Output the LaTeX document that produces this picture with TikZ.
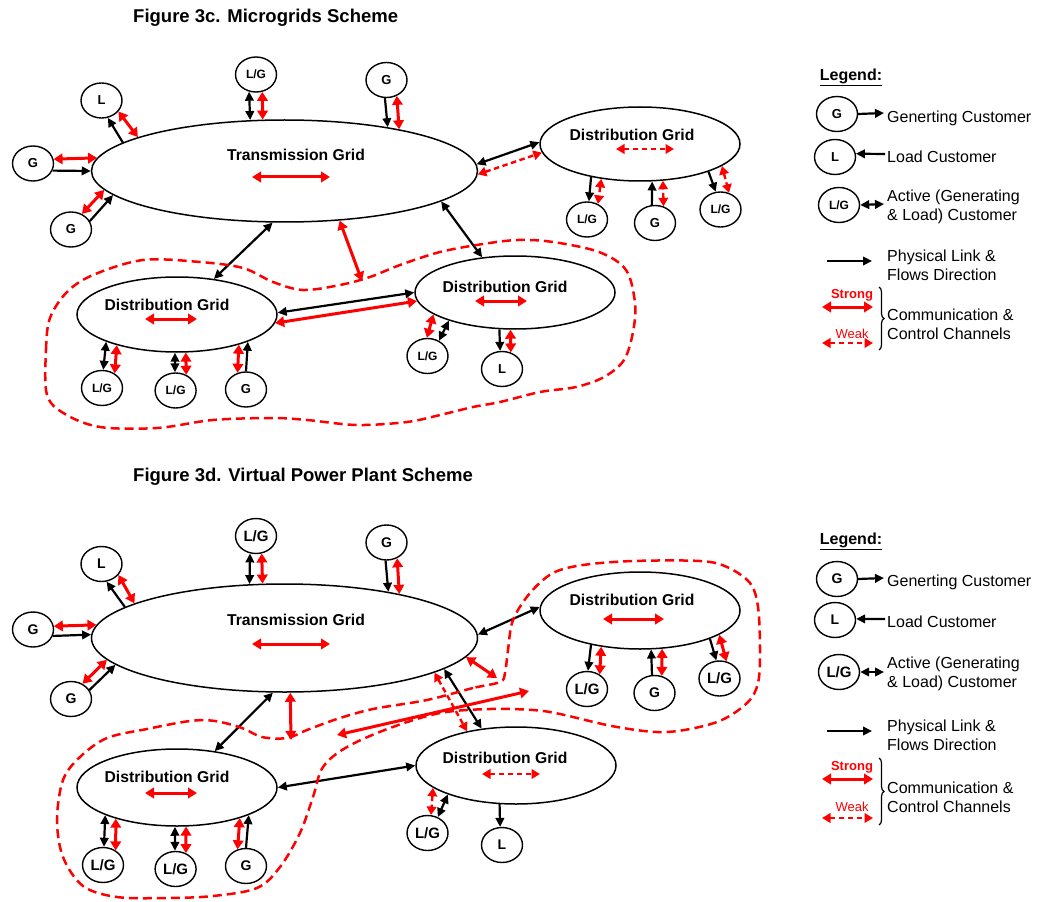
\documentclass[tikz,border=0pt]{standalone}
\usepackage{fontspec}
\setmainfont{Liberation Sans}
\usetikzlibrary{arrows.meta,shapes.geometric,decorations.pathreplacing}

\begin{document}
\begin{tikzpicture}[x=1pt,y=-1pt,
  gridnode/.style={draw, ellipse, line width=1.5pt, inner sep=0pt},
  gridlabel/.style={font=\bfseries\fontsize{15.7}{16}\selectfont, inner sep=0pt},
  custnode/.style={draw, ellipse, line width=1.4pt, minimum width=41pt, minimum height=35pt,
                   inner sep=0pt, font=\bfseries\fontsize{13}{13}\selectfont},
  custsmall/.style={custnode, font=\bfseries\fontsize{12}{12}\selectfont},
  custbig/.style={custnode, font=\bfseries\fontsize{14}{14}\selectfont},
  custlg/.style={custnode, font=\bfseries\fontsize{15}{15}\selectfont},
  physarr/.style={line width=2.2pt, -{Triangle[length=9pt,width=8.5pt]}},
  physdbl/.style={line width=2.2pt, {Triangle[length=9pt,width=8.5pt]}-{Triangle[length=9pt,width=8.5pt]}},
  strongarr/.style={red, line width=3pt, {Triangle[length=9pt,width=10.5pt]}-{Triangle[length=9pt,width=10.5pt]}},
  weakarr/.style={red, line width=2.4pt, dash pattern=on 5.5pt off 3.5pt,
                  {Triangle[length=8.5pt,width=9.5pt]}-{Triangle[length=8.5pt,width=9.5pt]}},
  mgloop/.style={red, line width=2.5pt, dash pattern=on 9pt off 5pt},
  titletext/.style={font=\bfseries\fontsize{18.5}{19}\selectfont, anchor=west, inner sep=0pt},
  legtext/.style={font=\fontsize{16}{19}\selectfont, anchor=west, align=left, inner sep=0pt},
  leghead/.style={font=\bfseries\fontsize{16}{16}\selectfont, inner sep=0pt},
]
\useasboundingbox (0,0) rectangle (1040,901);

%% ================= Figure 3c: microgrids =================
\node[titletext] (title3c) at (133,18) {Figure 3c. Microgrids Scheme};

% grids
\node[gridnode, minimum width=386pt, minimum height=102pt] (tgA) at (284.5,171) {};
\node[gridlabel] (tgAt) at (296,155) {Transmission Grid};
\node[gridnode, minimum width=200pt, minimum height=74pt] (dgA1) at (640,144) {};
\node[gridlabel] (dgA1t) at (632,135) {Distribution Grid};
\node[gridnode, minimum width=200pt, minimum height=75pt] (dgA2) at (177,314.5) {};
\node[gridlabel] (dgA2t) at (167,305) {Distribution Grid};
\node[gridnode, minimum width=200pt, minimum height=73pt] (dgA3) at (515,292.5) {};
\node[gridlabel] (dgA3t) at (505,287) {Distribution Grid};

% customers
\node[custnode]  (cA1)  at (101.5,100.5) {L};
\node[custnode]  (cA2)  at (33,163.5)    {G};
\node[custnode]  (cA3)  at (71,229.5)    {G};
\node[custsmall] (cA4)  at (256,74.5)    {L/G};
\node[custnode]  (cA5)  at (386.5,80)    {G};
\node[custsmall] (cA6)  at (587,219.5)   {L/G};
\node[custnode]  (cA7)  at (655,223)     {G};
\node[custsmall] (cA8)  at (720.5,209.5) {L/G};
\node[custsmall] (cA9)  at (102,388)     {L/G};
\node[custsmall] (cA10) at (175.6,390.5) {L/G};
\node[custnode]  (cA11) at (246,389.5)   {G};
\node[custsmall] (cA12) at (427.5,356)   {L/G};
\node[custnode]  (cA13) at (502,369)     {L};

% internal channels
\coordinate (tgAa) at (252,177); \coordinate (tgAb) at (330,177);
\draw[strongarr] (tgAa) -- (tgAb);
\coordinate (dgA1a) at (616,149); \coordinate (dgA1b) at (674,149);
\draw[weakarr] (dgA1a) -- (dgA1b);
\coordinate (dgA2a) at (145,319); \coordinate (dgA2b) at (197,319);
\draw[strongarr] (dgA2a) -- (dgA2b);
\coordinate (dgA3a) at (475,301); \coordinate (dgA3b) at (527,301);
\draw[strongarr] (dgA3a) -- (dgA3b);

% transmission grid customers
\draw[physarr]   (tgA.170.2) -- (cA1.-70);
\draw[strongarr] (tgA.167.6) -- (cA1.-33);
\draw[strongarr] (cA2.12) -- (tgA.176.6);
\draw[physarr]   (cA2.-20) -- (tgA.180);
\draw[strongarr] (cA3.55) -- (tgA.186.9);
\draw[physarr]   (cA3.24) -- (tgA.188.5);
\draw[physdbl]   (cA4.-112) -- (tgA.124.6);
\draw[strongarr] (cA4.-70) -- (tgA.113.8);
\draw[physarr]   (cA5.-95) -- (tgA.23.2);
\draw[strongarr] (cA5.-57) -- (tgA.20.2);

% grid to grid
\draw[physdbl]   (tgA.2.1) -- (dgA1.179.4);
\draw[weakarr]   (tgA.-1.8) -- (dgA1.185.9);
\draw[physdbl]   (tgA.257.3) -- (dgA2.44.2);
\coordinate (mgTip) at (362,281);
\draw[strongarr] (tgA.-42.5) -- (mgTip);
\draw[physdbl]   (tgA.-11.3) -- (dgA3.133.7);
\draw[physdbl]   (dgA2.1.1) -- (dgA3.180);
\draw[strongarr] (dgA2.-5.9) -- (dgA3.185.6);

% right distribution grid customers
\draw[physarr] (dgA1.214.8) -- (cA6.84);
\draw[weakarr] (dgA1.222.9) -- (cA6.55);
\draw[physarr] (cA7.100) -- (dgA1.288.1);
\draw[weakarr] (cA7.63) -- (dgA1.302.6);
\draw[physarr] (dgA1.-22.3) -- (cA8.105);
\draw[weakarr] (dgA1.-15) -- (cA8.63);

% microgrid customers
\draw[physdbl]   (dgA2.201.7) -- (cA9.86);
\draw[strongarr] (dgA2.207.5) -- (cA9.49);
\draw[physdbl]   (dgA2.267) -- (cA10.92);
\draw[strongarr] (dgA2.283.4) -- (cA10.56);
\draw[strongarr] (dgA2.-26.3) -- (cA11.117);
\draw[physarr]   (cA11.90) -- (dgA2.-21.7);
\draw[strongarr] (dgA3.195) -- (cA12.92);
\draw[physdbl]   (dgA3.203.4) -- (cA12.53);
\draw[physarr]   (dgA3.247.4) -- (cA13.96);
\draw[strongarr] (dgA3.263.7) -- (cA13.62);

% microgrid boundary
\draw[mgloop] plot[smooth cycle, tension=0.55] coordinates {
  (47,395) (46,350) (50,318) (67,292) (93,275) (143,260) (200,262) (243,268)
  (273,282) (303,290) (340,285) (370,277) (400,265) (440,252) (483,244)
  (518,240) (553,242) (599,252) (626,270) (635,303) (633,332) (624,360)
  (604,377) (576,387) (540,392) (500,402) (473,407) (440,415) (407,422)
  (357,425) (307,420) (273,418) (213,420) (157,428) (100,427) (65,414)};

% legend
\node[leghead] (legA) at (851,77) {\underline{Legend:}};
\node[custnode] (lgAG) at (837,114) {G};
\coordinate (lgAGe) at (884,113);
\draw[physarr] (lgAG.east) -- (lgAGe);
\node[legtext] (lgAGt) at (887,118) {Generting Customer};
\node[custnode] (lgAL) at (835,157) {L};
\coordinate (lgALe) at (885,154);
\draw[physarr] (lgALe) -- (lgAL.9);
\node[legtext] (lgALt) at (887,157) {Load Customer};
\node[custsmall] (lgALG) at (839,205) {L/G};
\coordinate (lgALGe) at (884,204);
\draw[physdbl] (lgALG.east) -- (lgALGe);
\node[legtext] (lgALGt) at (887,206.5) {Active (Generating\\\& Load) Customer};
\coordinate (lgAPa) at (827,261); \coordinate (lgAPb) at (872,261);
\draw[physarr] (lgAPa) -- (lgAPb);
\node[legtext] (lgAPt) at (887,265) {Physical Link \&\\Flows Direction};
\node[red, font=\bfseries\fontsize{13}{13}\selectfont, inner sep=0pt] (lgAS) at (852,295) {Strong};
\coordinate (lgASa) at (822,307); \coordinate (lgASb) at (873,307);
\draw[strongarr] (lgASa) -- (lgASb);
\node[red, font=\fontsize{13}{13}\selectfont, inner sep=0pt] (lgAW) at (852,334) {Weak};
\coordinate (lgAWa) at (822,343); \coordinate (lgAWb) at (873,343);
\draw[weakarr] (lgAWa) -- (lgAWb);
\coordinate (lgABa) at (879,287); \coordinate (lgABb) at (879,350);
\draw[line width=1.2pt, decorate, decoration={brace, amplitude=5pt}] (lgABa) -- (lgABb);
\node[legtext] (lgACt) at (887,324) {Communication \&\\Control Channels};

%% ================= Figure 3d: virtual power plant =================
\node[titletext] (title3d) at (133,477) {Figure 3d. Virtual Power Plant Scheme};

% grids
\node[gridnode, minimum width=386pt, minimum height=108pt] (tgB) at (284.5,638) {};
\node[gridlabel] (tgBt) at (296,620) {Transmission Grid};
\node[gridnode, minimum width=200pt, minimum height=77pt] (dgB1) at (640,610.5) {};
\node[gridlabel] (dgB1t) at (632,600) {Distribution Grid};
\node[gridnode, minimum width=200pt, minimum height=77pt] (dgB2) at (177,787.5) {};
\node[gridlabel] (dgB2t) at (167,777) {Distribution Grid};
\node[gridnode, minimum width=200pt, minimum height=77pt] (dgB3) at (516,765.5) {};
\node[gridlabel] (dgB3t) at (505,758) {Distribution Grid};

% customers
\node[custbig] (cB1)  at (101.5,564)   {L};
\node[custbig] (cB2)  at (33,629.5)    {G};
\node[custbig] (cB3)  at (71,699)      {G};
\node[custlg]  (cB4)  at (256,536)     {L/G};
\node[custbig] (cB5)  at (386.5,542.5) {G};
\node[custlg]  (cB6)  at (587,689)     {L/G};
\node[custbig] (cB7)  at (654.5,693)   {G};
\node[custlg]  (cB8)  at (719.5,678.5) {L/G};
\node[custlg]  (cB9)  at (103,865)     {L/G};
\node[custlg]  (cB10) at (175.6,869)   {L/G};
\node[custbig] (cB11) at (246,866)     {G};
\node[custlg]  (cB12) at (427.5,833)   {L/G};
\node[custbig] (cB13) at (502,845)     {L};

% internal channels
\coordinate (tgBa) at (252,644); \coordinate (tgBb) at (330,644);
\draw[strongarr] (tgBa) -- (tgBb);
\coordinate (dgB1a) at (603,619); \coordinate (dgB1b) at (664,619);
\draw[strongarr] (dgB1a) -- (dgB1b);
\coordinate (dgB2a) at (145,793); \coordinate (dgB2b) at (197,793);
\draw[strongarr] (dgB2a) -- (dgB2b);
\coordinate (dgB3a) at (482,774); \coordinate (dgB3b) at (540,774);
\draw[weakarr] (dgB3a) -- (dgB3b);

% transmission grid customers
\draw[physarr]   (tgB.169.5) -- (cB1.-74.6);
\draw[strongarr] (tgB.167.5) -- (cB1.-33.7);
\draw[strongarr] (cB2.9) -- (tgB.176.6);
\draw[physarr]   (cB2.-18) -- (tgB.179.7);
\draw[strongarr] (cB3.53) -- (tgB.187.5);
\draw[physarr]   (cB3.26.6) -- (tgB.189.2);
\draw[physdbl]   (cB4.-109.4) -- (tgB.123);
\draw[strongarr] (cB4.-72.5) -- (tgB.112.7);
\draw[physarr]   (cB5.-93) -- (tgB.24.6);
\draw[strongarr] (cB5.-56.7) -- (tgB.21.3);

% grid to grid
\draw[physdbl]   (tgB.1.5) -- (dgB1.178.6);
\coordinate (vppA) at (497,678);
\draw[strongarr] (tgB.-6) -- (vppA);
\draw[physdbl]   (tgB.-11.6) -- (dgB3.133.6);
\draw[weakarr]   (tgB.-13.1) -- (dgB3.145.9);
\coordinate (vppB) at (337,735); \coordinate (vppC) at (529,691);
\draw[strongarr] (vppB) -- (vppC);
\draw[physdbl]   (tgB.258) -- (dgB2.44.9);
\coordinate (vppD) at (291,740);
\draw[strongarr] (tgB.276.9) -- (vppD);
\draw[physdbl]   (dgB2.0) -- (dgB3.180);

% right distribution grid customers
\draw[physarr]   (dgB1.215.5) -- (cB6.87);
\draw[strongarr] (dgB1.223.6) -- (cB6.49);
\draw[physarr]   (cB7.98) -- (dgB1.286.9);
\draw[strongarr] (cB7.67) -- (dgB1.300.1);
\draw[physarr]   (dgB1.-22.8) -- (cB8.100);
\draw[strongarr] (dgB1.-17) -- (cB8.68);

% lower-left distribution grid customers
\draw[physdbl]   (dgB2.201.7) -- (cB9.87);
\draw[strongarr] (dgB2.207.5) -- (cB9.49);
\draw[physdbl]   (dgB2.267) -- (cB10.92);
\draw[strongarr] (dgB2.283.4) -- (cB10.57);
\draw[strongarr] (dgB2.-26.3) -- (cB11.117);
\draw[physarr]   (cB11.90) -- (dgB2.-21.7);

% lower-right distribution grid customers
\draw[weakarr]   (dgB3.195.9) -- (cB12.79);
\draw[physdbl]   (dgB3.203.4) -- (cB12.57);
\draw[physarr]   (dgB3.247.2) -- (cB13.96);

% virtual power plant boundary
\draw[mgloop] plot[smooth cycle, tension=0.55] coordinates {
  (500,682) (473,688) (427,700) (373,709) (337,719) (307,730) (287,738)
  (262,737) (242,728) (215,721) (190,721) (147,729) (107,738) (80,757)
  (63,780) (57,820) (63,857) (83,886) (117,897) (167,898) (213,896)
  (257,888) (280,867) (300,833) (313,797) (323,767) (347,747) (390,728)
  (440,713) (490,709) (533,710) (560,714) (617,727) (667,732) (717,722)
  (747,703) (758,683) (760,650) (758,607) (750,583) (727,567) (700,561)
  (633,561) (583,565) (553,573) (530,593) (513,620) (508,650) (505,673)};

% legend
\node[leghead] (legB) at (851,541) {\underline{Legend:}};
\node[custbig] (lgBG) at (837,579) {G};
\coordinate (lgBGe) at (884,578);
\draw[physarr] (lgBG.east) -- (lgBGe);
\node[legtext] (lgBGt) at (887,582) {Generting Customer};
\node[custbig] (lgBL) at (835,620) {L};
\coordinate (lgBLe) at (885,619);
\draw[physarr] (lgBLe) -- (lgBL.3);
\node[legtext] (lgBLt) at (887,622) {Load Customer};
\node[custlg] (lgBLG) at (839,672) {L/G};
\coordinate (lgBLGe) at (884,672);
\draw[physdbl] (lgBLG.east) -- (lgBLGe);
\node[legtext] (lgBLGt) at (887,674) {Active (Generating\\\& Load) Customer};
\coordinate (lgBPa) at (827,731); \coordinate (lgBPb) at (872,731);
\draw[physarr] (lgBPa) -- (lgBPb);
\node[legtext] (lgBPt) at (887,735) {Physical Link \&\\Flows Direction};
\node[red, font=\bfseries\fontsize{13}{13}\selectfont, inner sep=0pt] (lgBS) at (852,767) {Strong};
\coordinate (lgBSa) at (822,779); \coordinate (lgBSb) at (873,779);
\draw[strongarr] (lgBSa) -- (lgBSb);
\node[red, font=\fontsize{13}{13}\selectfont, inner sep=0pt] (lgBW) at (852,807) {Weak};
\coordinate (lgBWa) at (822,818); \coordinate (lgBWb) at (873,818);
\draw[weakarr] (lgBWa) -- (lgBWb);
\coordinate (lgBBa) at (879,758); \coordinate (lgBBb) at (879,825);
\draw[line width=1.2pt, decorate, decoration={brace, amplitude=5pt}] (lgBBa) -- (lgBBb);
\node[legtext] (lgBCt) at (887,797) {Communication \&\\Control Channels};
\end{tikzpicture}
\end{document}
